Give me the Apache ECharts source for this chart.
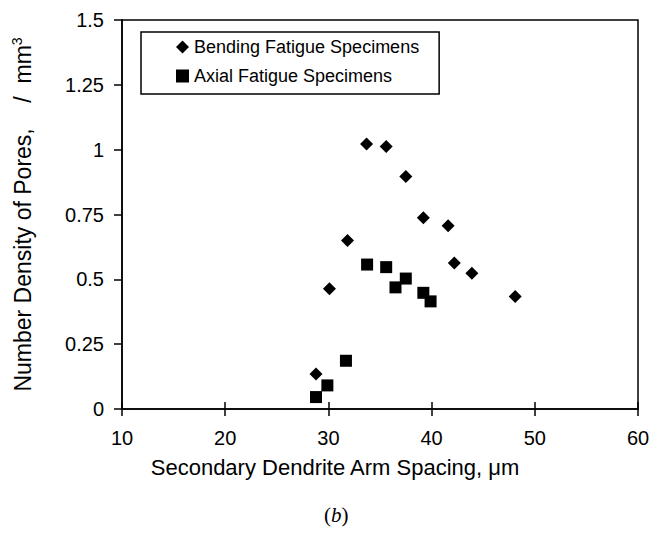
<!DOCTYPE html>
<html>
<head>
<meta charset="utf-8">
<script src="https://cdn.jsdelivr.net/npm/echarts@6/dist/echarts.min.js"></script>
<style>
  html, body { margin: 0; padding: 0; background: #fff; }
  #chart { width: 663px; height: 550px; }
</style>
</head>
<body>
<div id="chart"></div>
<script>
const xTicks = [10, 20, 30, 40, 50, 60];
const yTicks = [0, 0.25, 0.5, 0.75, 1, 1.25, 1.5];

const bendingX = [28.8, 30.1, 31.85, 33.7, 35.6, 37.5, 39.2, 41.6, 42.2, 43.9, 48.1];
const bendingY = [0.135, 0.464, 0.65, 1.022, 1.012, 0.897, 0.737, 0.707, 0.563, 0.523, 0.434];

const axialX = [28.8, 29.9, 31.7, 33.75, 35.6, 36.5, 37.5, 39.2, 39.9];
const axialY = [0.046, 0.091, 0.186, 0.557, 0.547, 0.469, 0.503, 0.448, 0.415];

const font = "'Liberation Sans', Arial, sans-serif";
const serif = "'Liberation Serif', 'Times New Roman', serif";

const chart = echarts.init(document.getElementById('chart'), null, { renderer: 'svg' });

// both x axes share the range; the second one only draws the inner half of the ticks
const xRange = {
  type: 'value',
  min: xTicks[0],
  max: xTicks[xTicks.length - 1],
  interval: xTicks[1] - xTicks[0],
  position: 'bottom',
  splitLine: { show: false }
};

const option = {
  animation: false,
  backgroundColor: '#fff',
  title: {
    text: '({i|b})',
    left: 324,
    top: 504,
    padding: 0,
    textStyle: {
      fontFamily: serif,
      fontSize: 21,
      fontWeight: 'normal',
      color: '#000',
      rich: {
        i: { fontFamily: serif, fontSize: 21, fontStyle: 'italic', color: '#000' }
      }
    }
  },
  grid: {
    left: 122,
    right: 25,
    top: 20,
    bottom: 141,
    show: true,
    borderColor: '#000',
    borderWidth: 1.5
  },
  legend: {
    orient: 'vertical',
    left: 141,
    top: 32,
    itemWidth: 13,
    itemHeight: 13,
    itemGap: 11,
    padding: [6, 20, 9, 35],
    borderColor: '#000',
    borderWidth: 1.5,
    textStyle: { fontFamily: font, fontSize: 18, color: '#000' },
    data: [
      { name: 'Bending Fatigue Specimens', icon: 'diamond' },
      { name: 'Axial Fatigue Specimens', icon: 'rect' }
    ]
  },
  xAxis: [
    {
      ...xRange,
      name: 'Secondary Dendrite Arm Spacing, μm',
      nameLocation: 'middle',
      nameGap: 47,
      nameTextStyle: { fontFamily: font, fontSize: 22, color: '#000', padding: [0, 90, 0, 0] },
      axisLine: { onZero: false, lineStyle: { color: '#000', width: 1.5 } },
      axisTick: { inside: false, length: 7, lineStyle: { color: '#000', width: 1.5 } },
      axisLabel: { fontFamily: font, fontSize: 20, color: '#000', margin: 19 }
    },
    {
      ...xRange,
      axisLine: { show: false },
      axisTick: { inside: true, length: 7, lineStyle: { color: '#000', width: 1.5 } },
      axisLabel: { show: false }
    }
  ],
  yAxis: {
    type: 'value',
    min: yTicks[0],
    max: yTicks[yTicks.length - 1],
    interval: yTicks[1] - yTicks[0],
    name: 'Number Density of Pores,    /  mm{sup|3}',
    nameLocation: 'middle',
    nameGap: 87,
    nameTextStyle: {
      fontFamily: font,
      fontSize: 23,
      color: '#000',
      rich: {
        sup: { fontFamily: font, fontSize: 14, color: '#000', verticalAlign: 'bottom', padding: [0, 0, 11, 0] }
      }
    },
    splitLine: { show: false },
    axisLine: { onZero: false, lineStyle: { color: '#000', width: 1.5 } },
    axisTick: { inside: false, length: 8, lineStyle: { color: '#000', width: 1.5 } },
    axisLabel: { fontFamily: font, fontSize: 20, color: '#000', margin: 18 }
  },
  series: [
    {
      name: 'Bending Fatigue Specimens',
      type: 'scatter',
      symbol: 'diamond',
      symbolSize: 13,
      itemStyle: { color: '#000', opacity: 1 },
      data: bendingX.map((x, i) => [x, bendingY[i]])
    },
    {
      name: 'Axial Fatigue Specimens',
      type: 'scatter',
      symbol: 'rect',
      symbolSize: 12,
      itemStyle: { color: '#000', opacity: 1 },
      data: axialX.map((x, i) => [x, axialY[i]])
    }
  ]
};

chart.setOption(option);
</script>
</body>
</html>
